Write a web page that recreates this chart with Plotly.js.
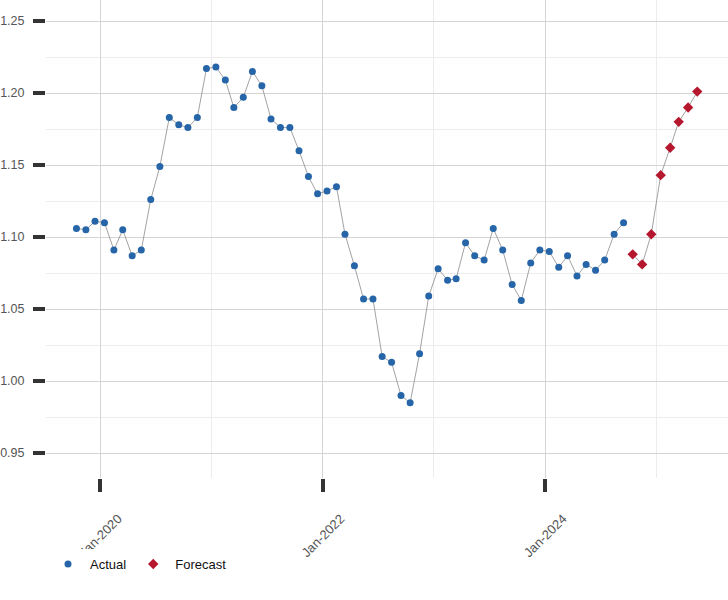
<!DOCTYPE html>
<html>
<head>
<meta charset="utf-8">
<script src="https://cdn.plot.ly/plotly-3.0.1.min.js"></script>
<style>
  html, body { margin: 0; padding: 0; background: #fff; }
  #chart { width: 728px; height: 600px; }
</style>
</head>
<body>
<div id="chart"></div>
<script>
// Monthly values, mid-month dates. Actual Oct-2019 .. Sep-2024, forecast Oct-2024 .. May-2025.
const actual_dates = [
    '2019-10-15', '2019-11-15', '2019-12-15',
    '2020-01-15', '2020-02-15', '2020-03-15', '2020-04-15', '2020-05-15', '2020-06-15',
    '2020-07-15', '2020-08-15', '2020-09-15', '2020-10-15', '2020-11-15', '2020-12-15',
    '2021-01-15', '2021-02-15', '2021-03-15', '2021-04-15', '2021-05-15', '2021-06-15',
    '2021-07-15', '2021-08-15', '2021-09-15', '2021-10-15', '2021-11-15', '2021-12-15',
    '2022-01-15', '2022-02-15', '2022-03-15', '2022-04-15', '2022-05-15', '2022-06-15',
    '2022-07-15', '2022-08-15', '2022-09-15', '2022-10-15', '2022-11-15', '2022-12-15',
    '2023-01-15', '2023-02-15', '2023-03-15', '2023-04-15', '2023-05-15', '2023-06-15',
    '2023-07-15', '2023-08-15', '2023-09-15', '2023-10-15', '2023-11-15', '2023-12-15',
    '2024-01-15', '2024-02-15', '2024-03-15', '2024-04-15', '2024-05-15', '2024-06-15',
    '2024-07-15', '2024-08-15', '2024-09-15'
];
const actual_values = [
    1.106, 1.105, 1.111,
    1.110, 1.091, 1.105, 1.087, 1.091, 1.126,
    1.149, 1.183, 1.178, 1.176, 1.183, 1.217,
    1.218, 1.209, 1.190, 1.197, 1.215, 1.205,
    1.182, 1.176, 1.176, 1.160, 1.142, 1.130,
    1.132, 1.135, 1.102, 1.080, 1.057, 1.057,
    1.017, 1.013, 0.990, 0.985, 1.019, 1.059,
    1.078, 1.070, 1.071, 1.096, 1.087, 1.084,
    1.106, 1.091, 1.067, 1.056, 1.082, 1.091,
    1.090, 1.079, 1.087, 1.073, 1.081, 1.077,
    1.084, 1.102, 1.110
];
const forecast_dates = [
    '2024-10-15', '2024-11-15', '2024-12-15', '2025-01-15',
    '2025-02-15', '2025-03-15', '2025-04-15', '2025-05-15'
];
const forecast_values = [1.088, 1.081, 1.102, 1.143, 1.162, 1.180, 1.190, 1.201];

const y_ticks = [0.95, 1.00, 1.05, 1.10, 1.15, 1.20, 1.25];
const y_tick_labels = ['0.95', '1.00', '1.05', '1.10', '1.15', '1.20', '1.25'];

const line_style = { color: '#8a8a8a', width: 0.8 };

const traces = [
    { x: actual_dates, y: actual_values, mode: 'lines', line: line_style, showlegend: false, hoverinfo: 'skip' },
    { x: forecast_dates, y: forecast_values, mode: 'lines', line: line_style, showlegend: false, hoverinfo: 'skip' },
    {
        x: actual_dates, y: actual_values, name: 'Actual', mode: 'markers', type: 'scatter',
        marker: { symbol: 'circle', size: 7, color: '#2565a8' }
    },
    {
        x: forecast_dates, y: forecast_values, name: 'Forecast', mode: 'markers', type: 'scatter',
        marker: { symbol: 'diamond', size: 8, color: '#b5172e' }
    }
];

const layout = {
    width: 728,
    height: 600,
    margin: { l: 46, r: 0, t: 0, b: 122 },
    paper_bgcolor: '#fff',
    plot_bgcolor: '#fff',
    font: { family: 'Liberation Sans, Arial, sans-serif', size: 13, color: '#555' },
    showlegend: true,
    legend: {
        orientation: 'h',
        x: 0.0, xanchor: 'left',
        y: -0.18, yanchor: 'middle',
        font: { size: 13, color: '#111' },
        itemwidth: 34
    },
    xaxis: {
        type: 'date',
        range: ['2019-07-07', '2025-08-24'],
        tick0: '2020-01-01',
        dtick: 'M24',
        tickformat: '%b-%Y',
        tickangle: -45,
        ticklabelstandoff: 14,
        ticklabelshift: 18,
        ticks: 'outside',
        ticklen: 13,
        tickwidth: 4,
        tickcolor: '#333',
        showgrid: true,
        gridcolor: '#d4d4d4',
        gridwidth: 1,
        minor: { dtick: 'M12', showgrid: true, gridcolor: '#ececec', ticks: '' },
        zeroline: false,
        showline: false
    },
    yaxis: {
        range: [0.9327, 1.2646],
        tickvals: y_ticks,
        ticktext: y_tick_labels,
        tickfont: { size: 12.5, color: '#555' },
        ticks: 'outside',
        ticklen: 12,
        tickwidth: 4,
        tickcolor: '#333',
        ticklabelstandoff: 6,
        showgrid: true,
        gridcolor: '#d4d4d4',
        gridwidth: 1,
        minor: { dtick: 0.025, tick0: 0.925, showgrid: true, gridcolor: '#ececec', ticks: '' },
        zeroline: false,
        showline: false
    }
};

const config = { displayModeBar: false, responsive: false, staticPlot: true };

Plotly.newPlot('chart', traces, layout, config);
</script>
</body>
</html>
